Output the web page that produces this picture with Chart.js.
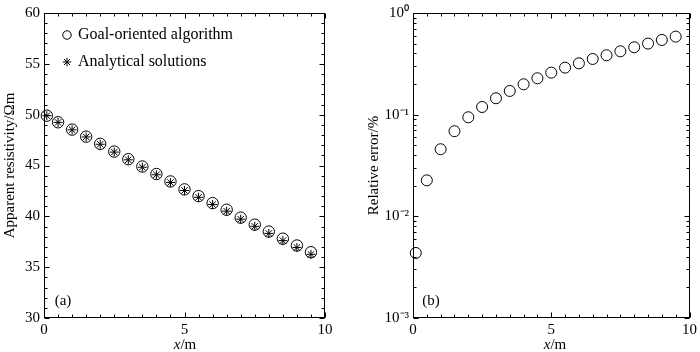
<!DOCTYPE html>
<html><head><meta charset="utf-8">
<script src="https://cdn.jsdelivr.net/npm/chart.js@4.4.1/dist/chart.umd.min.js"></script>
<style>
html,body{margin:0;padding:0;background:#fff;}
#wrap{position:relative;width:700px;height:352px;overflow:hidden;font-family:'Liberation Serif','Times New Roman',serif;color:#000;}
canvas{position:absolute;top:0;}
#ca{left:0;} #cb{left:350px;}
.lbl{position:absolute;font-size:15px;line-height:15px;white-space:nowrap;transform:translate(-50%,-50%);}
</style></head><body>
<div id="wrap">
<canvas id="ca" width="350" height="352"></canvas>
<canvas id="cb" width="350" height="352"></canvas>
<div class="lbl" style="left:185px;top:344px;"><i>x</i>/m</div>
<div class="lbl" style="left:555px;top:344px;"><i>x</i>/m</div>
<div class="lbl" style="left:63px;top:300px;">(a)</div>
<div class="lbl" style="left:431px;top:300px;">(b)</div>
</div>
<script>
// ---- data ----
const xPositions = [0.1, 0.5, 1.0, 1.5, 2.0, 2.5, 3.0, 3.5, 4.0, 4.5, 5.0, 5.5, 6.0, 6.5, 7.0, 7.5, 8.0, 8.5, 9.0, 9.5];
const goalResistivity = [49.9, 49.25, 48.53, 47.84, 47.13, 46.37, 45.62, 44.9, 44.16, 43.43, 42.65, 41.99, 41.3, 40.65, 39.87, 39.18, 38.5, 37.8, 37.13, 36.47];
const analyticResistivity = [49.9, 49.24, 48.51, 47.81, 47.09, 46.32, 45.56, 44.83, 44.09, 43.33, 42.54, 41.87, 41.17, 40.51, 39.72, 39.02, 38.32, 37.61, 36.93, 36.26];
const relativeError = [0.00436, 0.0226, 0.0457, 0.0687, 0.0943, 0.119, 0.145, 0.171, 0.199, 0.228, 0.259, 0.290, 0.320, 0.353, 0.384, 0.420, 0.460, 0.500, 0.543, 0.586];
const distanceTicks = [0, 5, 10];
const resistivityTicks = [30, 35, 40, 45, 50, 55, 60];
const errorTickValues = [0.001, 0.01, 0.1, 1];
const errorTickLabels = ['10\u207B\u00B3', '10\u207B\u00B2', '10\u207B\u00B9', '10\u2070'];
const seriesNames = ['Goal-oriented algorithm', 'Analytical solutions'];

Chart.defaults.font.family = "'Liberation Serif','Times New Roman',serif";
Chart.defaults.font.size = 15;
Chart.defaults.color = '#000';

const framePlugin = {
  id: 'frame',
  afterDraw(chart, args, opts) {
    const {ctx, chartArea} = chart;
    const xs = chart.scales.x, ys = chart.scales.y;
    const L = Math.round(chartArea.left) + 0.5, R = Math.round(chartArea.right) - 0.5;
    const T = Math.round(chartArea.top) + 0.5, B = Math.round(chartArea.bottom) - 0.5;
    ctx.save();
    ctx.strokeStyle = '#000';
    ctx.lineWidth = 1;
    ctx.strokeRect(L, T, R - L, B - T);
    ctx.beginPath();
    const tx = (v, len) => { const p = Math.round(xs.getPixelForValue(v)) + 0.5; ctx.moveTo(p, B); ctx.lineTo(p, B - len); ctx.moveTo(p, T); ctx.lineTo(p, T + len); };
    const ty = (v, len) => { const p = Math.round(ys.getPixelForValue(v)) + 0.5; ctx.moveTo(L, p); ctx.lineTo(L + len, p); ctx.moveTo(R, p); ctx.lineTo(R - len, p); };
    const xMajor = xs.ticks.map(t => t.value);
    for (let i = 0; xs.min + i * opts.xMinor <= xs.max + 1e-9; i++) {
      const v = xs.min + i * opts.xMinor;
      tx(v, xMajor.some(m => Math.abs(m - v) < 1e-9) ? 5 : 3);
    }
    if (opts.log) {
      const d0 = Math.round(Math.log10(ys.min)), d1 = Math.round(Math.log10(ys.max));
      for (let d = d0; d < d1; d++) {
        for (let k = 1; k <= 9; k++) ty(k * Math.pow(10, d), k === 1 ? 5 : 3);
      }
      ty(ys.max, 5);
    } else {
      const yMajor = ys.ticks.map(t => t.value);
      for (let i = 0; ys.min + i * opts.yMinor <= ys.max + 1e-9; i++) {
        const v = ys.min + i * opts.yMinor;
        ty(v, yMajor.some(m => Math.abs(m - v) < 1e-9) ? 5 : 3);
      }
    }
    ctx.stroke();
    ctx.restore();
  }
};

const legendPlace = {
  id: 'legendPlace',
  afterLayout(chart, args, opts) {
    const lg = chart.legend;
    if (!lg || !chart.options.plugins.legend.display) return;
    const ca = chart.chartArea;
    lg.left = ca.left + opts.dx;
    lg.top = ca.top + opts.dy;
    lg.right = ca.right;
    lg.bottom = ca.bottom;
  }
};

const tickFont = {size: 15};
const xScale = {
  type: 'linear', min: 0, max: 10,
  afterBuildTicks: s => { s.ticks = distanceTicks.map(v => ({value: v})); },
  ticks: {padding: 3, maxRotation: 0, autoSkip: false, font: tickFont, color: '#000'},
  grid: {display: false, drawTicks: false},
  border: {display: false},
  afterFit: s => { s.height = 34; }
};

// ---- panel (a) ----
new Chart(document.getElementById('ca'), {
  type: 'scatter',
  data: {
    datasets: [
      {label: seriesNames[0], data: xPositions.map((x, i) => ({x, y: goalResistivity[i]})),
       pointStyle: 'circle', pointRadius: 5.7, borderColor: '#000', backgroundColor: 'rgba(0,0,0,0)', borderWidth: 1, clip: false},
      {label: seriesNames[1], data: xPositions.map((x, i) => ({x, y: analyticResistivity[i]})),
       pointStyle: 'star', pointRadius: 4.5, borderColor: '#000', backgroundColor: 'rgba(0,0,0,0)', borderWidth: 1, clip: false}
    ]
  },
  options: {
    responsive: false, animation: false, devicePixelRatio: 1,
    layout: {padding: {left: 0, right: 25, top: 12, bottom: 0}},
    scales: {
      x: xScale,
      y: {
        type: 'linear', min: 30, max: 60,
        afterBuildTicks: s => { s.ticks = resistivityTicks.map(v => ({value: v})); },
        ticks: {padding: 4, autoSkip: false, font: tickFont, color: '#000'},
        grid: {display: false, drawTicks: false},
        border: {display: false},
        title: {display: true, text: 'Apparent resistivity/\u03A9m', font: {size: 15}, color: '#000', padding: {top: 1, bottom: 0}},
        afterFit: s => { s.width = 44; }
      }
    },
    plugins: {
      legend: {display: true, position: 'chartArea', align: 'start',
        labels: {usePointStyle: true, boxWidth: 6, boxHeight: 6, padding: 11, color: '#000', font: {size: 16}}},
      tooltip: {enabled: false},
      frame: {xMinor: 0.5, yMinor: 1},
      legendPlace: {dx: 9, dy: 3}
    }
  },
  plugins: [framePlugin, legendPlace]
});

// ---- panel (b) ----
new Chart(document.getElementById('cb'), {
  type: 'scatter',
  data: {
    datasets: [
      {label: 'Relative error', data: xPositions.map((x, i) => ({x, y: relativeError[i]})),
       pointStyle: 'circle', pointRadius: 5.5, borderColor: '#000', backgroundColor: 'rgba(0,0,0,0)', borderWidth: 1, clip: false}
    ]
  },
  options: {
    responsive: false, animation: false, devicePixelRatio: 1,
    layout: {padding: {left: 0, right: 7, top: 13, bottom: 0}},
    scales: {
      x: xScale,
      y: {
        type: 'logarithmic', min: 0.001, max: 1,
        afterBuildTicks: s => { s.ticks = errorTickValues.map(v => ({value: v})); },
        ticks: {padding: 4, autoSkip: false, font: tickFont, color: '#000',
          callback: (v) => { const i = errorTickValues.findIndex(t => Math.abs(t - v) / t < 1e-6); return i >= 0 ? errorTickLabels[i] : ''; }},
        grid: {display: false, drawTicks: false},
        border: {display: false},
        title: {display: true, text: 'Relative error/%', font: {size: 15}, color: '#000', padding: {top: 15, bottom: 0}},
        afterFit: s => { s.width = 63; }
      }
    },
    plugins: {
      legend: {display: false},
      tooltip: {enabled: false},
      frame: {xMinor: 0.5, log: true}
    }
  },
  plugins: [framePlugin]
});
</script>
</body></html>
